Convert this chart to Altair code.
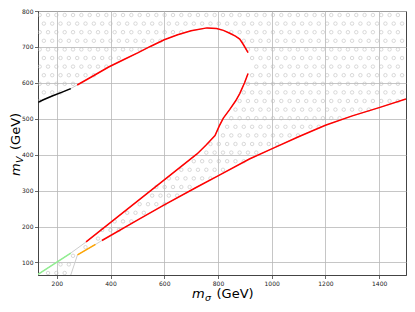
import altair as alt
import numpy as np
import pandas as pd

# ---- axis ranges / ticks ----
X_MIN, X_MAX = 130, 1500
Y_MIN, Y_MAX = 65, 800
x_ticks = [200, 400, 600, 800, 1000, 1200, 1400]
y_ticks = [100, 200, 300, 400, 500, 600, 700, 800]

# ---- upper boundary curve ----
top_black_x = [130, 150, 185, 220, 252]
top_black_y = [546, 553, 564, 574, 584]
top_red_x = [276, 330, 393, 450, 503, 550, 600, 650, 700, 759, 795, 820, 844, 865, 881, 895, 912]
top_red_y = [594, 617, 644, 665, 684, 702, 720, 734, 745, 753, 751, 746, 738, 730, 722, 706, 684]

# ---- inner diagonal curve ----
diag_green_x = [130, 252]
diag_green_y = [67, 126]
diag_red_x = [309, 722, 755, 789, 805, 820, 844, 866, 881, 899, 912]
diag_red_y = [157, 402, 426, 453, 480, 502, 526, 550, 570, 600, 626]

# ---- lower boundary curve ----
low_steep_x = [252, 277]
low_steep_y = [65, 121]
low_orange_x = [277, 344]
low_orange_y = [121, 150]
low_red_x = [368, 500, 600, 722, 800, 917, 1000, 1100, 1200, 1300, 1400, 1500]
low_red_y = [161, 218, 260, 310, 341, 388, 416, 450, 482, 508, 531, 555]

W, H = 368, 264

xs = alt.Scale(domain=[X_MIN, X_MAX], nice=False, zero=False)
ys = alt.Scale(domain=[Y_MIN, Y_MAX], nice=False, zero=False)
x_axis = alt.Axis(values=x_ticks, title=None, grid=True, labelAngle=0, format="d")
y_axis = alt.Axis(values=y_ticks, title=None, grid=True, format="d")

# full boundaries (used for hatch region + grey edges)
TC_x = top_black_x + top_red_x
TC_y = top_black_y + top_red_y
UD_x = diag_green_x + diag_red_x
UD_y = diag_green_y + diag_red_y
LB_x = [X_MIN] + low_steep_x + low_orange_x[1:] + low_red_x
LB_y = [Y_MIN] + low_steep_y + low_orange_y[1:] + low_red_y

# ---- hatch pattern ('o') as staggered grid of small circles ----
sx, sy = 8.33, 8.6
hx, hy = [], []
r = 0
py = 4.0
while py < H:
    px = 1.7 - sx + (sx / 2 if r % 2 else 0)
    while px < W:
        if px >= 0:
            xd = X_MIN + px / W * (X_MAX - X_MIN)
            yd = Y_MAX - py / H * (Y_MAX - Y_MIN)
            lb = np.interp(xd, LB_x, LB_y)
            inside_loop = (xd <= 912) and (np.interp(xd, UD_x, UD_y) < yd < np.interp(xd, TC_x, TC_y))
            if yd > lb and not inside_loop:
                hx.append(xd)
                hy.append(yd)
        px += sx
    py += sy
    r += 1


def seg_df(xv, yv):
    return pd.DataFrame({"x": xv, "y": yv, "i": list(range(len(xv)))})


def line_layer(xv, yv, color, width):
    return alt.Chart(seg_df(xv, yv)).mark_line(color=color, strokeWidth=width, clip=True).encode(
        x=alt.X("x:Q", scale=xs, axis=x_axis),
        y=alt.Y("y:Q", scale=ys, axis=y_axis),
        order="i:Q",
    )


hatch = alt.Chart(pd.DataFrame({"x": hx, "y": hy})).mark_point(
    shape="circle", filled=False, size=12, strokeWidth=0.8, color="#bcbcbc", clip=True
).encode(x=alt.X("x:Q", scale=xs, axis=x_axis), y=alt.Y("y:Q", scale=ys, axis=y_axis))

GREY = "#cdcdcd"
layers = [
    hatch,
    line_layer(TC_x, TC_y, GREY, 1),
    line_layer(UD_x, UD_y, GREY, 1),
    line_layer(LB_x[1:], LB_y[1:], GREY, 1),
    line_layer(top_black_x, top_black_y, "black", 1.5),
    line_layer(top_red_x, top_red_y, "red", 1.5),
    line_layer(diag_green_x, diag_green_y, "lightgreen", 1.5),
    line_layer(diag_red_x, diag_red_y, "red", 1.5),
    line_layer(low_orange_x, low_orange_y, "orange", 1.5),
    line_layer(low_red_x, low_red_y, "red", 1.5),
]

one = pd.DataFrame({"a": [0]})
FONT = "DejaVu Sans"


def txt(s, x, y, size, italic=False, angle=0):
    kw = dict(text=s, font=FONT, fontSize=size, align="left", baseline="alphabetic", color="black")
    if italic:
        kw["fontStyle"] = "italic"
    if angle:
        kw["angle"] = angle
    return alt.Chart(one).mark_text(**kw).encode(x=alt.value(x), y=alt.value(y))


# x-axis title: m_sigma (GeV)
xc = W / 2
layers += [
    txt("m", xc - 30, H + 23, 13, italic=True),
    txt("σ", xc - 17, H + 26, 9.5, italic=True),
    txt("(GeV)", xc - 5.5, H + 23, 13),
]
# y-axis title: m_V (GeV), rotated
yc = H / 2
layers += [
    txt("m", -18, yc + 33, 13, italic=True, angle=270),
    txt("V", -15, yc + 20, 9.5, italic=True, angle=270),
    txt("(GeV)", -18, yc + 7, 13, angle=270),
]

chart = alt.layer(*layers).properties(
    width=W,
    height=H,
    autosize=alt.AutoSizeParams(type="none"),
    padding={"left": 30, "top": 3, "right": 1, "bottom": 29},
).configure_view(
    stroke="#444", strokeWidth=1
).configure_axis(
    domainColor="#444",
    domainWidth=1,
    tickColor="#444",
    tickWidth=0.8,
    tickSize=3.5,
    labelFont=FONT,
    labelFontSize=6,
    labelColor="#222",
    labelPadding=1.5,
    gridColor="#b8b8b8",
    gridWidth=0.8,
)

chart.save("out.html", embed_options={"renderer": "svg", "actions": False})
